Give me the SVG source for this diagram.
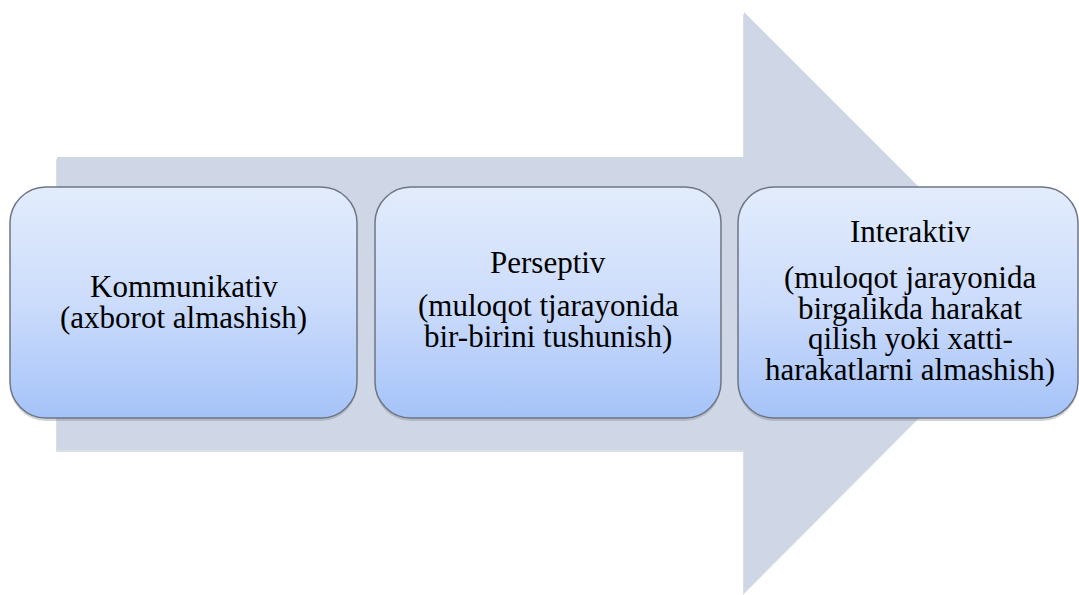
<svg xmlns="http://www.w3.org/2000/svg" width="1079" height="595" viewBox="0 0 1079 595">
  <defs>
    <linearGradient id="boxGrad" x1="0" y1="0" x2="0" y2="1">
      <stop offset="0" stop-color="#E2ECFC"/>
      <stop offset="0.5" stop-color="#CCDCFB"/>
      <stop offset="1" stop-color="#A5C3F9"/>
    </linearGradient>
  </defs>

  <g id="arrow">
    <polygon points="56,159 743,159 743,14 1033,304 743,595 743,452 56,452" fill="#B8BFCC" opacity="0.5"/>
    <polygon points="57,157 744,157 744,12 1034,302 744,593 744,450 57,450" fill="#CFD6E5"/>
  </g>

  <g id="connectors"></g>

  <g id="node-kommunikativ">
    <rect x="10" y="189" width="347" height="232" rx="36" ry="36" fill="#7A808A" opacity="0.35"/>
    <rect x="10" y="187" width="347" height="231" rx="36" ry="36" fill="url(#boxGrad)" stroke="#6E7684" stroke-width="1.5"/>
    <text x="90" y="297" font-size="31" font-family="Liberation Serif">Kommunikativ</text>
    <text x="60" y="328" font-size="31" font-family="Liberation Serif">(axborot almashish)</text>
  </g>

  <g id="node-perseptiv">
    <rect x="375" y="189" width="346" height="232" rx="36" ry="36" fill="#7A808A" opacity="0.35"/>
    <rect x="375" y="187" width="346" height="231" rx="36" ry="36" fill="url(#boxGrad)" stroke="#6E7684" stroke-width="1.5"/>
    <text x="490" y="273" font-size="31" font-family="Liberation Serif">Perseptiv</text>
    <text x="418" y="316" font-size="31" font-family="Liberation Serif">(muloqot tjarayonida</text>
    <text x="424" y="347" font-size="31" font-family="Liberation Serif">bir-birini tushunish)</text>
  </g>

  <g id="node-interaktiv">
    <rect x="738" y="189" width="340" height="232" rx="36" ry="36" fill="#7A808A" opacity="0.35"/>
    <rect x="738" y="187" width="340" height="231" rx="36" ry="36" fill="url(#boxGrad)" stroke="#6E7684" stroke-width="1.5"/>
    <text x="850" y="242" font-size="31" font-family="Liberation Serif">Interaktiv</text>
    <text x="784" y="288" font-size="31" font-family="Liberation Serif">(muloqot jarayonida</text>
    <text x="798" y="319" font-size="31" font-family="Liberation Serif">birgalikda harakat</text>
    <text x="808" y="349" font-size="31" font-family="Liberation Serif">qilish yoki xatti-</text>
    <text x="765" y="380" font-size="31" font-family="Liberation Serif">harakatlarni almashish)</text>
  </g>
</svg>
